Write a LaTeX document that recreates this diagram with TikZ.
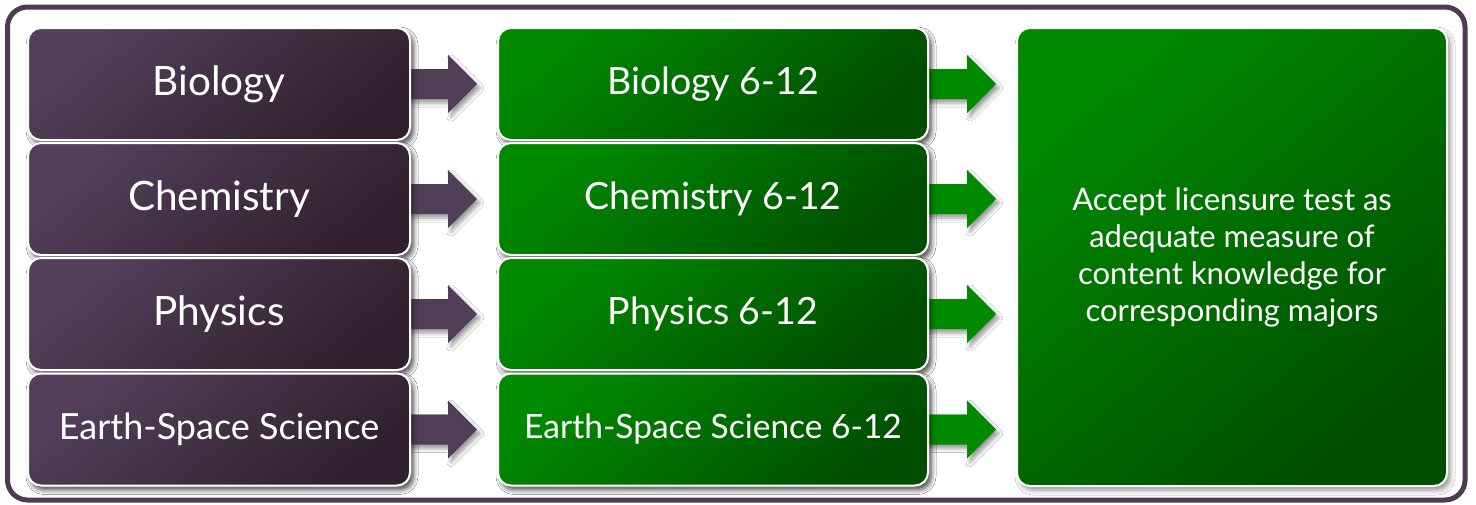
\documentclass[tikz,border=0pt]{standalone}
\usepackage{fontspec}
\setmainfont{Lato}
\usetikzlibrary{calc,shadows.blur}
\definecolor{frameP}{HTML}{4E3B52}
\definecolor{purL}{HTML}{52405A}
\definecolor{purD}{HTML}{30202D}
\definecolor{arrP}{HTML}{503E56}
\definecolor{grnL}{HTML}{008A00}
\definecolor{grnD}{HTML}{004E00}
\definecolor{arrG}{HTML}{008A00}
\tikzset{
  boxbase/.style={rounded corners=13pt, draw=white, line width=2pt,
    text=white, align=center, inner sep=0pt,
    blur shadow={shadow xshift=3pt, shadow yshift=-4pt, shadow blur radius=5pt, shadow opacity=45}},
  purbox/.style={boxbase, top color=purL, bottom color=purD, shading angle=40,
    minimum width=382pt, minimum height=112pt},
  grnbox/.style={boxbase, top color=grnL, bottom color=grnD, shading angle=40,
    minimum width=430pt, minimum height=112pt},
  bigbox/.style={boxbase, top color=grnL, bottom color=grnD, shading angle=40,
    minimum width=430pt, minimum height=458pt},
  arrowshape/.style={blur shadow={shadow xshift=3pt, shadow yshift=-4pt, shadow blur radius=4pt, shadow opacity=40}},
  bigfont/.style={font=\fontsize{40.5}{42}\selectfont},
  gbigfont/.style={font=\fontsize{37.5}{40}\selectfont},
  midfont/.style={font=\fontsize{36}{38}\selectfont},
  gsmfont/.style={font=\fontsize{33.5}{36}\selectfont},
  rfont/.style={font=\fontsize{31}{37}\selectfont},
}
\begin{document}
\begin{tikzpicture}[x=1pt,y=-1pt]
\useasboundingbox (0,0) rectangle (1476,504);
\fill[white] (0,0) rectangle (1476,504);
\draw[frameP, line width=5pt, rounded corners=20pt] (7.5,7) rectangle (1465,500);

% coordinates for box centres
\coordinate (c1) at (219,84);
\coordinate (c2) at (219,199);
\coordinate (c3) at (219,314);
\coordinate (c4) at (219,429.5);

% nodes (positioned but drawn later for layering)
\path
  (c1) node[purbox, bigfont] (p1) {Biology}
  (c2) node[purbox, bigfont] (p2) {Chemistry}
  (c3) node[purbox, bigfont] (p3) {Physics}
  (c4) node[purbox, midfont] (p4) {Earth-Space Science};
\path
  ($(c1)+(494,0)$) node[grnbox, gbigfont] (g1) {Biology 6-12}
  ($(c2)+(494,0)$) node[grnbox, gbigfont] (g2) {Chemistry 6-12}
  ($(c3)+(494,0)$) node[grnbox, gbigfont] (g3) {Physics 6-12}
  ($(c4)+(494,0)$) node[grnbox, gsmfont] (g4) {Earth-Space Science 6-12};
\node[bigbox, rfont] (big) at (1232,257) {Accept licensure test as\\adequate measure of\\content knowledge for\\corresponding majors};

% arrows
\foreach \i in {1,2,3,4}{
  \coordinate (tp\i) at ($(g\i.west)+(-20,0)$);
  \fill[arrP, arrowshape] ($(p\i.east)+(-4,-15)$) -- ($(tp\i)+(-29,-15)$) -- ($(tp\i)+(-29,-29)$)
     -- (tp\i) -- ($(tp\i)+(-29,29)$) -- ($(tp\i)+(-29,15)$) -- ($(p\i.east)+(-4,15)$) -- cycle;
  \coordinate (tg\i) at ($(big.west |- g\i.east)+(-20,0)$);
  \fill[arrG, arrowshape] ($(g\i.east)+(-4,-15)$) -- ($(tg\i)+(-29,-15)$) -- ($(tg\i)+(-29,-29)$)
     -- (tg\i) -- ($(tg\i)+(-29,29)$) -- ($(tg\i)+(-29,15)$) -- ($(g\i.east)+(-4,15)$) -- cycle;
}
% redraw boxes on top of arrows
\path
  (c1) node[purbox, bigfont] {Biology}
  (c2) node[purbox, bigfont] {Chemistry}
  (c3) node[purbox, bigfont] {Physics}
  (c4) node[purbox, midfont] {Earth-Space Science};
\path
  ($(c1)+(494,0)$) node[grnbox, gbigfont] {Biology 6-12}
  ($(c2)+(494,0)$) node[grnbox, gbigfont] {Chemistry 6-12}
  ($(c3)+(494,0)$) node[grnbox, gbigfont] {Physics 6-12}
  ($(c4)+(494,0)$) node[grnbox, gsmfont] {Earth-Space Science 6-12};
\end{tikzpicture}
\end{document}
